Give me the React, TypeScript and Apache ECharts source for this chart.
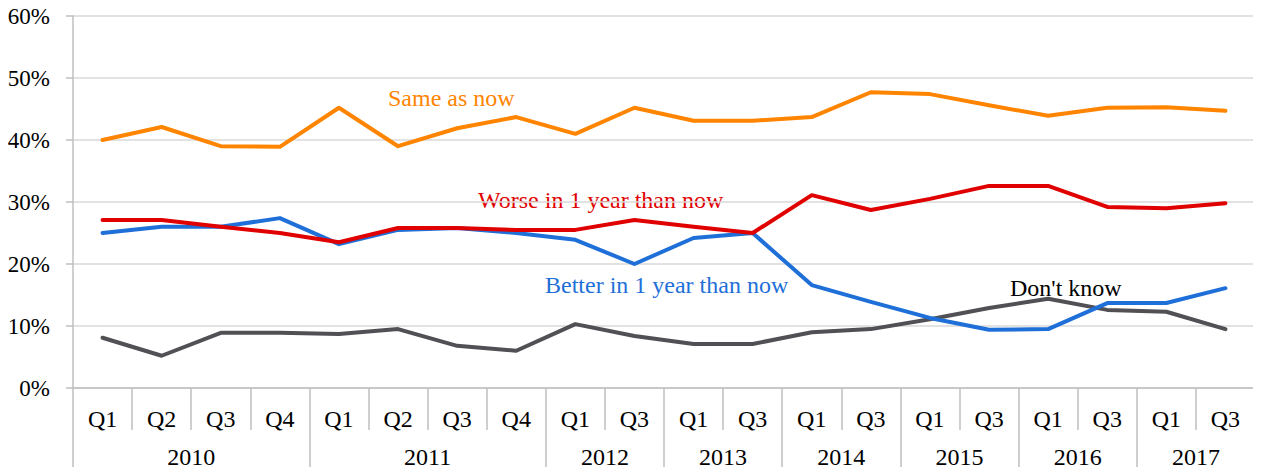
import React, { useEffect, useRef } from "react";
import * as echarts from "echarts";

const quarters = ["Q1","Q2","Q3","Q4","Q1","Q2","Q3","Q4","Q1","Q3","Q1","Q3","Q1","Q3","Q1","Q3","Q1","Q3","Q1","Q3"];
const years = ["2010","2011","2012","2013","2014","2015","2016","2017"];
const yearCenters = [2, 6, 9, 11, 13, 15, 17, 19];
const yearBounds = [0, 4, 8, 10, 12, 14, 16, 18];
const quarterBounds = [1, 2, 3, 5, 6, 7, 9, 11, 13, 15, 17, 19];

const sameAsNow = [40.0,42.1,39.0,38.9,45.2,39.0,41.9,43.7,41.0,45.2,43.1,43.1,43.7,47.7,47.4,45.6,43.9,45.2,45.3,44.7];
const worse = [27.1,27.1,26.0,25.0,23.5,25.8,25.8,25.5,25.5,27.1,26.0,25.0,31.1,28.7,30.5,32.6,32.6,29.2,29.0,29.8];
const better = [25.0,26.0,26.0,27.4,23.2,25.5,25.8,25.0,23.9,20.0,24.2,25.0,16.6,13.9,11.3,9.4,9.5,13.7,13.7,16.1];
const dontKnow = [8.1,5.2,8.9,8.9,8.7,9.5,6.8,6.0,10.3,8.4,7.1,7.1,9.0,9.5,11.1,12.9,14.4,12.6,12.3,9.5];

const FONT = "'Liberation Serif', 'Times New Roman', serif";
const AXIS_GRAY = "#BFBFBF";
const FS = 24;

export default function App() {
  const ref = useRef<HTMLDivElement>(null);
  useEffect(() => {
    if (!ref.current) return;
    const chart = echarts.init(ref.current, undefined, { renderer: "svg" });
    const mkLine = (name: string, data: number[], color: string) => ({
      name,
      type: "line",
      data,
      xAxisIndex: 0,
      yAxisIndex: 0,
      symbol: "none",
      lineStyle: { color, width: 4, cap: "round", join: "round" },
      itemStyle: { color },
    });
    chart.setOption({
      animation: false,
      grid: { left: 73, right: 6, top: 16, bottom: 87, containLabel: false },
      xAxis: [
        {
          type: "category",
          data: quarters,
          boundaryGap: true,
          axisLine: { show: true, lineStyle: { color: AXIS_GRAY, width: 1.5 } },
          axisTick: { show: false },
          axisLabel: { color: "#000", fontFamily: FONT, fontSize: FS, margin: 19, interval: 0 },
        },
        {
          type: "value",
          min: 0,
          max: 20,
          position: "bottom",
          axisLine: { show: false },
          splitLine: { show: false },
          axisLabel: { show: false },
          axisTick: { show: true, length: 42, customValues: quarterBounds, lineStyle: { color: AXIS_GRAY, width: 1.5 } },
        },
        {
          type: "value",
          min: 0,
          max: 20,
          position: "bottom",
          axisLine: { show: false },
          splitLine: { show: false },
          axisTick: { show: true, length: 87, customValues: yearBounds, lineStyle: { color: AXIS_GRAY, width: 1.5 } },
          axisLabel: {
            show: true,
            customValues: yearCenters,
            formatter: (v: number) => years[yearCenters.indexOf(v)] ?? "",
            color: "#000",
            fontFamily: FONT,
            fontSize: FS,
            margin: 57,
          },
        },
      ],
      yAxis: {
        type: "value",
        min: 0,
        max: 60,
        interval: 10,
        axisLine: { show: true, lineStyle: { color: AXIS_GRAY, width: 1.5 } },
        axisTick: { show: true, length: 7, lineStyle: { color: AXIS_GRAY, width: 1.5 } },
        splitLine: { show: true, lineStyle: { color: "#D9D9D9", width: 1.5 } },
        axisLabel: { formatter: "{value}%", color: "#000", fontFamily: FONT, fontSize: 23, margin: 23 },
      },
      series: [
        mkLine("Don't know", dontKnow, "#505055"),
        mkLine("Better in 1 year than now", better, "#1F6FD8"),
        mkLine("Worse in 1 year than now", worse, "#E00000"),
        mkLine("Same as now", sameAsNow, "#FF8400"),
      ],
      graphic: [
        { type: "text", left: 388, top: 86, style: { text: "Same as now", fill: "#FF8400", font: `${FS}px ${FONT}` } },
        { type: "text", left: 478, top: 188, style: { text: "Worse in 1 year than now", fill: "#E00000", font: `${FS}px ${FONT}` } },
        { type: "text", left: 545, top: 273, style: { text: "Better in 1 year than now", fill: "#1F6FD8", font: `${FS}px ${FONT}` } },
        { type: "text", left: 1010, top: 276, style: { text: "Don't know", fill: "#000", font: `${FS}px ${FONT}` } },
      ],
    });
    return () => chart.dispose();
  }, []);
  return <div ref={ref} style={{ width: 1261, height: 475, margin: -8 }} />;
}
